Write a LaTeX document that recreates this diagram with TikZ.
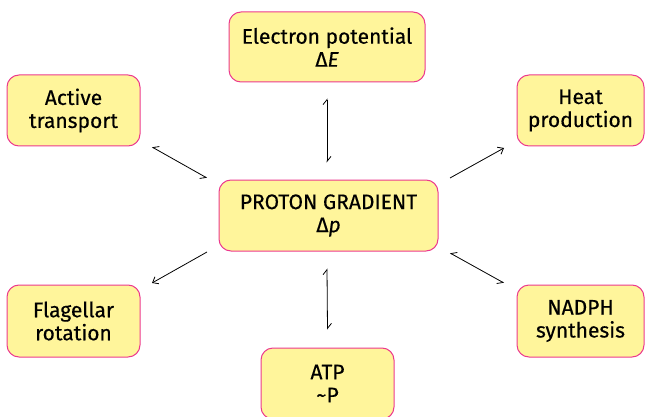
\documentclass[tikz,border=0pt]{standalone}
\usepackage{fontspec}
\setmainfont{Fira Sans}[FakeBold=0.4,AutoFakeBold=0.4]
\usetikzlibrary{arrows.meta}
\definecolor{boxfill}{HTML}{FFF59B}
\definecolor{boxdraw}{HTML}{EC3A8E}
\tikzset{
  box/.style={draw=boxdraw, fill=boxfill, line width=1pt, rounded corners=12pt,
    align=center, inner sep=0pt, font=\fontsize{21}{23}\selectfont},
  conn/.style={line width=0.8pt, black},
  hl/.tip={Straight Barb[left, length=5pt, width=8pt]},
  hr/.tip={Straight Barb[right, length=5pt, width=8pt]},
  fh/.tip={Straight Barb[length=5pt, width=8pt]},
}
\begin{document}
\begin{tikzpicture}[x=1pt, y=-1pt]
\useasboundingbox (0,0) rectangle (645,417);
\begin{scope}
\clip (0,0) rectangle (645,417);
\node[box, minimum width=196pt, minimum height=70pt] (E) at (327,47) {Electron potential\\Δ\textit{E}};
\node[box, minimum width=133pt, minimum height=71pt] (A) at (73.5,110.5) {Active\\transport};
\node[box, minimum width=219pt, minimum height=71pt] (P) at (328.5,215.5) {PROTON GRADIENT\\Δ\textit{p}};
\node[box, minimum width=127pt, minimum height=71pt] (H) at (580.5,110.5) {Heat\\production};
\node[box, minimum width=133pt, minimum height=72pt] (F) at (73.5,321) {Flagellar\\rotation};
\node[box, minimum width=127pt, minimum height=72pt] (N) at (580.5,321) {NADPH\\synthesis};
\node[box, minimum width=133pt, minimum height=71pt] (T) at (327.5,383.5) {ATP\\\textasciitilde P};
\end{scope}
\coordinate (a1) at (152,147);
\coordinate (a2) at (207,178);
\coordinate (h1) at (450,178);
\coordinate (h2) at (504,148);
\coordinate (f1) at (207,252);
\coordinate (f2) at (152,283);
\coordinate (n1) at (450,253);
\coordinate (n2) at (504,283);
\draw[conn, hl-hl] ([yshift=-16pt]E.south) -- ([xshift=-1.5pt,yshift=17pt]P.north);
\draw[conn, hl-hl] ([xshift=-1.5pt,yshift=-17pt]P.south) -- ([yshift=18pt]T.north);
\draw[conn, hr-hr] (a1) -- (a2);
\draw[conn, hr-hr] (n1) -- (n2);
\draw[conn, -fh] (h1) -- (h2);
\draw[conn, -fh] (f1) -- (f2);
\end{tikzpicture}
\end{document}
